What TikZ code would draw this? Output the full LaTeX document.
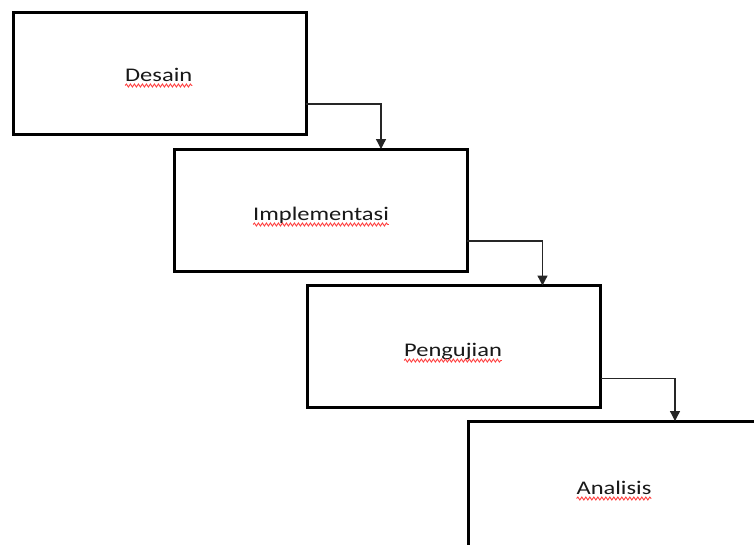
\documentclass[tikz,border=0pt]{standalone}
\usepackage{fontspec}
\setmainfont{Carlito}
\usetikzlibrary{arrows.meta,calc,decorations.pathmorphing}
\tikzset{
  box/.style={draw=black, line width=3pt, minimum width=293pt, minimum height=122pt, inner sep=0pt, outer sep=0pt},
  label/.style={anchor=base, inner sep=0pt, outer sep=0pt, text=black!90, font=\fontsize{19.3}{19}\selectfont},
  conn/.style={draw=black!85, line width=1.3pt, -{Triangle[width=10pt,length=10pt]}},
  squig/.style={draw=red!75, line width=0.9pt, decorate, decoration={snake, amplitude=1.5pt, segment length=4pt}}
}
\newcommand{\wtxt}[1]{\scalebox{1.27}[1]{#1}}
\begin{document}
\begin{tikzpicture}[x=1pt,y=-1pt]
\clip (0,0) rectangle (754,544);
\fill[white] (0,0) rectangle (754,544);
\node[box] (d) at (159.5,73) {};
\node[box] (i) at (320.5,210) {};
\node[box] (p) at (454,346.5) {};
\node[box, minimum width=300pt, minimum height=160pt, anchor=north west] (a) at (468,421) {};
\node[label] (td) at (158.7,81) {\wtxt{Desain}};
\node[label] (ti) at (321,220) {\wtxt{Implementasi}};
\node[label] (tp) at (453,356) {\wtxt{Pengujian}};
\node[label] (ta) at (614,494) {\wtxt{Analisis}};
\foreach \t in {td,ti,tp,ta}{
  \draw[squig] ($(\t.base west)+(0,4.5)$) -- ($(\t.base east)+(0,4.5)$);
}
\draw[conn] ($(d.south east)+(0,-30)$) -| ($(i.north west)+(207,0)$);
\draw[conn] ($(i.south east)+(0,-30)$) -| ($(p.north west)+(235,0)$);
\draw[conn] ($(p.south east)+(0,-29)$) -| ($(a.north west)+(207,0)$);
\end{tikzpicture}
\end{document}
